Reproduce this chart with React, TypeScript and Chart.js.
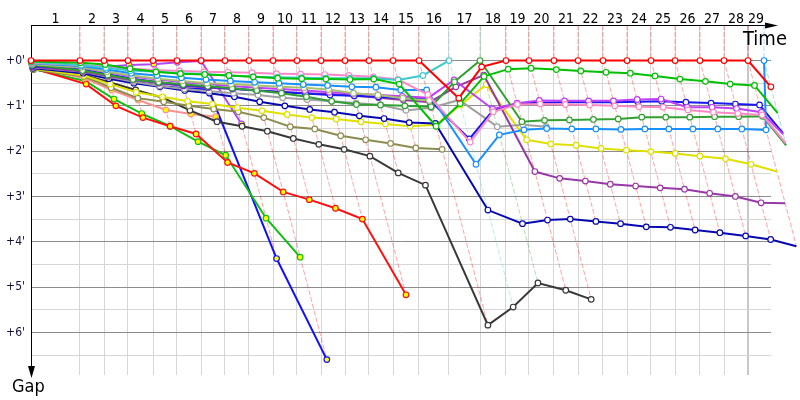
import React, { useEffect, useRef } from "react";
import { Chart, registerables } from "chart.js";

Chart.register(...registerables);

// ---------- DATA ----------
// Top tick labels (lap numbers)
const LAP_LABELS = [
  "1", "2", "3", "4", "5", "6", "7", "8", "9", "10",
  "11", "12", "13", "14", "15", "16", "17", "18", "19", "20",
  "21", "22", "23", "24", "25", "26", "27", "28", "29",
];

// Reference (leader) elapsed time in minutes at the end of each lap (index 0 = start)
const REF_TIMES = [
  0, 4.15, 6.19, 8.22, 10.34, 12.37, 14.41, 16.44, 18.47, 20.51,
  22.54, 24.58, 26.61, 28.64, 30.68, 32.88, 35.42, 38.05, 40.25, 42.2,
  44.32, 46.36, 48.47, 50.51, 52.54, 54.58, 56.69, 58.73, 60.76, 62.12,
];

// Gap axis ticks (minutes) and labels
const GAP_TICKS = [0, 0.5, 1, 1.5, 2, 2.5, 3, 3.5, 4, 4.5, 5, 5.5, 6, 6.5];
const GAP_LABELS = ["+0'", "+1'", "+2'", "+3'", "+4'", "+5'", "+6'"];

// Gap to reference (minutes) per lap, index 0 = start
const gapRed = [0, 0, 0, 0, 0, 0, 0, 0, 0, 0, 0, 0, 0, 0, 0, 0, 0.83, 0.14, 0, 0, 0, 0, 0, 0, 0, 0, 0, 0, 0, 0.58];
const gapGreen = [0.02, 0.05, 0.09, 0.18, 0.25, 0.29, 0.31, 0.33, 0.36, 0.39, 0.4, 0.41, 0.42, 0.41, 0.52, 1.45, 0.95, 0.35, 0.19, 0.17, 0.2, 0.23, 0.26, 0.28, 0.34, 0.41, 0.46, 0.52, 0.55, 1.16];
const gapCyan = [0.03, 0.1, 0.16, 0.22, 0.25, 0.28, 0.3, 0.33, 0.36, 0.37, 0.38, 0.39, 0.39, 0.39, 0.43, 0.33, 0.0];
const gapPink = [0.05, 0.1, 0.14, 0.18, 0.21, 0.23, 0.25, 0.26, 0.27, 0.29, 0.3, 0.31, 0.33, 0.36, 0.42, 0.75, 1.8, 1.13, 0.97, 0.96, 0.97, 0.98, 1.0, 1.02, 1.03, 1.09, 1.14, 1.17, 1.2, 1.82];
const gapSky = [0.06, 0.12, 0.2, 0.28, 0.33, 0.38, 0.42, 0.45, 0.48, 0.5, 0.53, 0.55, 0.58, 0.59, 0.65, 0.65, 2.29, 1.64, 1.53, 1.5, 1.51, 1.51, 1.52, 1.51, 1.51, 1.51, 1.51, 1.51, 1.53, 0.0];
const gapLime = [0.08, 0.15, 0.25, 0.33, 0.4, 0.45, 0.5, 0.52, 0.55, 0.58, 0.6, 0.64, 0.72, 0.76, 0.83, 0.88];
const gapForest = [0.1, 0.22, 0.32, 0.42, 0.48, 0.53, 0.57, 0.61, 0.66, 0.72, 0.8, 0.9, 0.97, 0.98, 1.0, 1.02, 0.47, 0.0, 1.35, 1.32, 1.31, 1.3, 1.29, 1.25, 1.25, 1.25, 1.24, 1.24, 1.23, 1.87];
const gapMagenta = [0.09, 0.16, 0.26, 0.35, 0.42, 0.48, 0.52, 0.56, 0.6, 0.63, 0.66, 0.7, 0.73, 0.76, 0.79, 0.82, 0.43, 1.07, 0.94, 0.88, 0.89, 0.89, 0.89, 0.86, 0.85, 1.03, 1.03, 1.06, 1.14, 1.63];
const gapBlue = [0.12, 0.2, 0.3, 0.4, 0.48, 0.54, 0.58, 0.62, 0.66, 0.7, 0.73, 0.76, 0.78, 0.8, 0.83, 0.86, 1.73, 1.1, 0.95, 0.93, 0.92, 0.92, 0.92, 0.91, 0.9, 0.92, 0.94, 0.96, 0.98, 1.6];
const gapPurple = [0.14, 0.24, 0.34, 0.43, 0.5, 0.56, 0.6, 0.63, 0.66, 0.69, 0.72, 0.74, 0.78, 0.82, 0.87, 0.92, 0.58, 0.32, 2.45, 2.6, 2.66, 2.73, 2.77, 2.81, 2.84, 2.93, 3.0, 3.14, 3.15];
const gapGray = [0.15, 0.25, 0.36, 0.47, 0.56, 0.63, 0.68, 0.72, 0.76, 0.82, 0.86, 0.9, 0.94, 0.98, 1.1, 1.04, 0.87, 1.46, 1.42, 1.46];
const gapNavy = [0.17, 0.28, 0.4, 0.5, 0.58, 0.66, 0.72, 0.8, 0.91, 1.0, 1.08, 1.14, 1.22, 1.28, 1.37, 1.39, 3.3, 3.6, 3.52, 3.5, 3.55, 3.6, 3.67, 3.68, 3.74, 3.8, 3.87, 3.95, 4.1];
const gapYellow = [0.18, 0.33, 0.52, 0.7, 0.8, 0.9, 0.96, 1.04, 1.11, 1.19, 1.26, 1.29, 1.35, 1.4, 1.45, 1.42, 0.98, 0.53, 1.75, 1.84, 1.87, 1.94, 1.98, 2.01, 2.05, 2.11, 2.17, 2.29, 2.45];
const gapOlive = [0.2, 0.35, 0.6, 0.83, 0.91, 1.0, 1.07, 1.13, 1.26, 1.46, 1.51, 1.66, 1.75, 1.83, 1.93, 1.96];
const gapBlack = [0.2, 0.32, 0.48, 0.65, 0.82, 1.1, 1.35, 1.45, 1.56, 1.72, 1.85, 1.96, 2.11, 2.48, 2.75, 5.84, 5.44, 4.91, 5.07, 5.27];
const gapSalmon = [0.15, 0.39, 0.65, 0.87, 1.09, 1.18, 1.24];
const gapRed2 = [0.17, 0.52, 1.0, 1.26, 1.45, 1.62, 2.25, 2.49, 2.9, 3.07, 3.26, 3.5, 5.17];
const gapGreen2 = [0.19, 0.45, 0.85, 1.17, 1.45, 1.79, 2.09, 3.48, 4.34];
const gapBlue2 = [0.1, 0.25, 0.36, 0.47, 0.56, 0.61, 0.64, 4.37, 6.6];
const gapViolet = [0.05, 0.11, 0.14, 0.1, 0.08, 0.04, 0.01, 1.4];

// ---------- STYLE ----------
const WHITE = "#ffffff";
const YELLOW = "#ffff00";
const SERIES = [
  { gaps: gapRed, color: "#ff0000", fill: WHITE },
  { gaps: gapGreen, color: "#00c000", fill: WHITE },
  { gaps: gapCyan, color: "#40c8d0", fill: WHITE },
  { gaps: gapPink, color: "#ff88c4", fill: WHITE },
  { gaps: gapSky, color: "#1890ff", fill: WHITE },
  { gaps: gapLime, color: "#a8c070", fill: WHITE },
  { gaps: gapForest, color: "#30a030", fill: WHITE },
  { gaps: gapMagenta, color: "#c040f8", fill: WHITE },
  { gaps: gapBlue, color: "#1818f0", fill: WHITE },
  { gaps: gapPurple, color: "#9838a8", fill: WHITE },
  { gaps: gapGray, color: "#a0a0a0", fill: WHITE },
  { gaps: gapNavy, color: "#0808b0", fill: WHITE },
  { gaps: gapYellow, color: "#e0e000", fill: WHITE },
  { gaps: gapOlive, color: "#8c8c50", fill: WHITE },
  { gaps: gapBlack, color: "#383838", fill: WHITE },
  { gaps: gapSalmon, color: "#ff9090", fill: YELLOW },
  { gaps: gapRed2, color: "#ff1010", fill: YELLOW },
  { gaps: gapGreen2, color: "#10c010", fill: YELLOW },
  { gaps: gapBlue2, color: "#1010ff", fill: YELLOW },
  { gaps: gapViolet, color: "#b048f0", fill: YELLOW },
];

const X_MIN = 0;
const X_MAX = 62.71;
const Y_MIN = -0.784;
const Y_MAX = 6.94;
const FONT = '"DejaVu Sans Condensed", "Liberation Sans", sans-serif';

function rgba(hex: string, a: number) {
  const n = parseInt(hex.slice(1), 16);
  return `rgba(${(n >> 16) & 255},${(n >> 8) & 255},${n & 255},${a})`;
}

function buildDatasets() {
  const lapLines: any[] = [];
  for (let k = 1; k < REF_TIMES.length; k++) {
    let minG = Infinity;
    let maxG = -Infinity;
    let lead = SERIES[0].color;
    SERIES.forEach((s) => {
      const g = s.gaps[k];
      if (g === undefined || g === null) return;
      if (g < minG) {
        minG = g;
        lead = s.color;
      }
      if (g > maxG) maxG = g;
    });
    lapLines.push({
      data: [
        { x: REF_TIMES[k] + minG, y: Y_MIN },
        { x: REF_TIMES[k] + minG, y: minG },
        { x: REF_TIMES[k] + maxG, y: maxG },
      ],
      showLine: true,
      borderColor: rgba(lead, 0.36),
      borderWidth: 1,
      borderDash: [5, 2],
      pointRadius: 0,
      clip: false,
      order: 100,
    });
  }
  const drivers = SERIES.map((s, i) => ({
    data: s.gaps.map((g, k) => ({ x: REF_TIMES[k] + g, y: g })),
    showLine: true,
    borderColor: s.color,
    backgroundColor: s.fill,
    borderWidth: 2,
    pointRadius: 2.8,
    pointBorderWidth: 1.2,
    pointBackgroundColor: s.fill,
    pointBorderColor: s.color,
    clip: false,
    order: i,
  }));
  return [...drivers, ...lapLines];
}

const arrowsPlugin = {
  id: "arrowsAndTitles",
  afterDraw(chart: any) {
    const { ctx, chartArea } = chart;
    ctx.save();
    ctx.fillStyle = "#000";
    ctx.strokeStyle = "#000";
    ctx.lineWidth = 1;
    // top axis arrow
    const ty = 25;
    ctx.beginPath();
    ctx.moveTo(chartArea.right, ty + 0.5);
    ctx.lineTo(766, ty + 0.5);
    ctx.stroke();
    ctx.beginPath();
    ctx.moveTo(765, ty - 2.5);
    ctx.lineTo(778, ty + 0.5);
    ctx.lineTo(765, ty + 3.5);
    ctx.closePath();
    ctx.fill();
    // left axis arrow
    const lx = chartArea.left + 0.5;
    ctx.beginPath();
    ctx.moveTo(lx, chartArea.bottom);
    ctx.lineTo(lx, 367);
    ctx.stroke();
    ctx.beginPath();
    ctx.moveTo(lx - 3.5, 366);
    ctx.lineTo(lx, 378);
    ctx.lineTo(lx + 3.5, 366);
    ctx.closePath();
    ctx.fill();
    // titles
    ctx.textAlign = "left";
    ctx.textBaseline = "alphabetic";
    ctx.font = `20px ${FONT}`;
    ctx.fillText("Time", 743, 45);
    ctx.font = `18px ${FONT}`;
    ctx.fillText("Gap", 12, 392);
    ctx.restore();
  },
};

export default function App() {
  const ref = useRef<HTMLCanvasElement | null>(null);
  useEffect(() => {
    if (!ref.current) return;
    const chart = new Chart(ref.current, {
      type: "scatter",
      data: { datasets: buildDatasets() as any },
      options: {
        responsive: false,
        animation: false,
        devicePixelRatio: 1,
        events: [],
        layout: { padding: { left: 0, right: 29, top: 0, bottom: 25 } },
        plugins: { legend: { display: false }, tooltip: { enabled: false } },
        scales: {
          x: {
            type: "linear",
            position: "bottom",
            min: X_MIN,
            max: X_MAX,
            afterBuildTicks: (sc: any) => {
              sc.ticks = REF_TIMES.slice(1, 29).map((v) => ({ value: v }));
            },
            afterFit: (sc: any) => {
              sc.height = 0;
            },
            ticks: { display: false, autoSkip: false },
            grid: {
              drawTicks: false,
              color: (c: any) => (c.index === 27 ? "#c8c8c8" : "#d6d6d6"),
              lineWidth: (c: any) => (c.index === 27 ? 2 : 1),
            },
            border: { display: false },
          },
          xTop: {
            type: "linear",
            position: "top",
            min: X_MIN,
            max: X_MAX,
            afterBuildTicks: (sc: any) => {
              sc.ticks = LAP_LABELS.map((_, i) => ({ value: (REF_TIMES[i] + REF_TIMES[i + 1]) / 2 }));
            },
            afterFit: (sc: any) => {
              sc.height = 25;
            },
            ticks: {
              autoSkip: false,
              maxRotation: 0,
              padding: -1,
              color: "#000",
              font: { family: FONT, size: 14, lineHeight: 1 },
              callback: (_v: any, i: number) => LAP_LABELS[i],
            },
            grid: { display: false, drawTicks: false },
            border: { display: true, color: "#000", width: 1 },
          },
          y: {
            type: "linear",
            position: "left",
            reverse: true,
            min: Y_MIN,
            max: Y_MAX,
            afterBuildTicks: (sc: any) => {
              sc.ticks = GAP_TICKS.map((v) => ({ value: v }));
            },
            afterFit: (sc: any) => {
              sc.width = 31;
            },
            ticks: {
              autoSkip: false,
              padding: 6,
              color: "#101040",
              font: { family: FONT, size: 12 },
              callback: (v: any) => (Number.isInteger(v) ? GAP_LABELS[v] : ""),
            },
            grid: {
              drawTicks: false,
              color: (c: any) => (Number.isInteger(c.tick?.value) ? "#8c8c8c" : "#d6d6d6"),
            },
            border: { display: true, color: "#000", width: 1 },
          },
        },
      } as any,
      plugins: [arrowsPlugin],
    });
    return () => chart.destroy();
  }, []);
  return (
    <div style={{ position: "fixed", left: 0, top: 0, width: 800, height: 400, background: "#fff" }}>
      <canvas ref={ref} width={800} height={400} style={{ display: "block", width: 800, height: 400 }} />
    </div>
  );
}
